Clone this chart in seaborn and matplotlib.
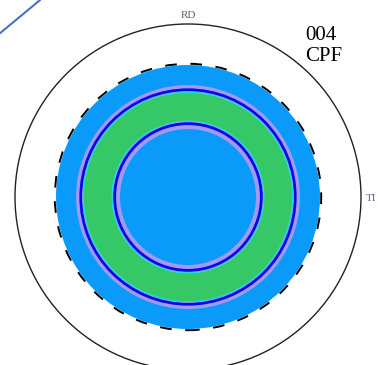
import matplotlib
matplotlib.use("Agg")
import matplotlib.pyplot as plt
from matplotlib.patches import Circle
from matplotlib.lines import Line2D
import seaborn as sns

sns.set_theme(style="white")
plt.rcParams["font.family"] = ["Liberation Serif", "DejaVu Serif"]

# Pole figure (004), radial intensity bands as fractions of the projection radius
band_radii = [0.763, 0.647, 0.607, 0.437, 0.393]
band_colors = ["#0A9BFA", "#A499F2", "#36C866", "#A499F2", "#0A9BFA"]

# Iso-intensity contour lines
contour_radii = [0.620, 0.605, 0.439, 0.424]
contour_colors = ["#0A0AE6", "#19E0E8", "#19E0E8", "#0A0AE6"]
contour_widths = [2.0, 0.8, 0.8, 2.0]

# Lowest contour (dashed) at the edge of the texture region
dashed_radius = 0.770

axis_labels = ["RD", "TI"]
title_lines = ["004", "CPF"]

fig = plt.figure(figsize=(3.78, 3.65), dpi=100)
ax = fig.add_axes([0, 0, 1, 1])
ax.set_xlim(-188 / 173, 190 / 173)
ax.set_ylim(-168 / 173, 197 / 173)
ax.set_aspect("equal")
ax.axis("off")

for r, c in zip(band_radii, band_colors):
    ax.add_patch(Circle((0, 0), r, facecolor=c, edgecolor="none"))

for r, c, w in zip(contour_radii, contour_colors, contour_widths):
    ax.add_patch(Circle((0, 0), r, facecolor="none", edgecolor=c, lw=w))

ax.add_patch(Circle((0, 0), dashed_radius, facecolor="none", edgecolor="black",
                    lw=1.4, linestyle=(0, (6, 7))))

# Projection circle
ax.add_patch(Circle((0, 0), 1.0, facecolor="none", edgecolor="#222222", lw=1.0))

ax.text(0.498, 0.958, axis_labels[0], transform=ax.transAxes, ha="center",
        va="center", fontsize=8, color="#6A5878")
ax.text(0.968, 0.457, axis_labels[1], transform=ax.transAxes, ha="left",
        va="center", fontsize=8, color="#6A5878")
ax.text(0.808, 0.903, title_lines[0], transform=ax.transAxes, ha="left",
        va="center", fontsize=15, color="black")
ax.text(0.808, 0.845, title_lines[1], transform=ax.transAxes, ha="left",
        va="center", fontsize=15, color="black")

# Connector line in the upper-left corner
corner_x = [0.0, 0.106]
corner_y = [0.909, 1.0]
fig.add_artist(Line2D(corner_x, corner_y, transform=fig.transFigure,
                      color="#4472C4", lw=1.5))

fig.savefig("out.png", dpi=100, facecolor="white")
